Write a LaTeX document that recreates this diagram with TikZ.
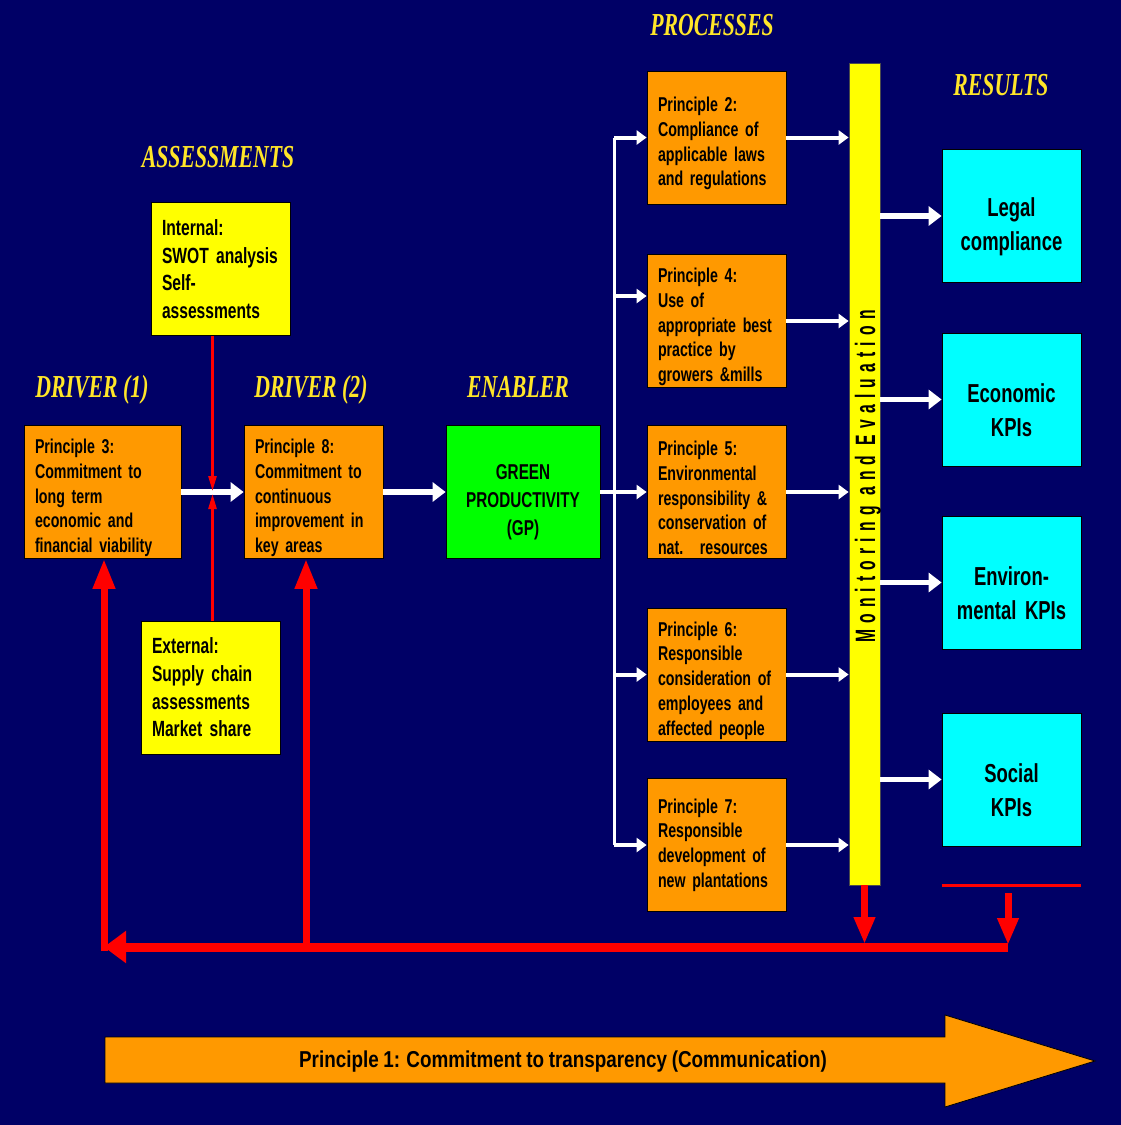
\documentclass[tikz,border=0pt]{standalone}
\usepackage{fontspec}
\usepackage{tikz}
\usetikzlibrary{positioning,calc,arrows.meta}
\newfontfamily\boxfont{Liberation Sans}[FakeStretch=0.71]
\newfontfamily\arrowfont{Liberation Sans}[FakeStretch=0.82]
\newfontfamily\barfont{Liberation Sans}[FakeStretch=0.56,LetterSpace=22]
\newfontfamily\headfont{Liberation Serif}[FakeStretch=0.68]
\newcommand\tightspace{\spaceskip=.2em\relax}
\definecolor{navy}{RGB}{0,0,102}
\definecolor{porange}{RGB}{255,153,0}
\definecolor{pyellow}{RGB}{255,255,0}
\definecolor{pgreen}{RGB}{0,255,0}
\definecolor{pcyan}{RGB}{0,255,255}
\definecolor{pred}{RGB}{255,0,0}
\definecolor{headgold}{RGB}{255,230,40}
\tikzstyle{box} = [draw=black, line width=0.8pt, inner xsep=11pt, inner ysep=0pt,
                   minimum width=139pt, minimum height=133pt, text width=117pt,
                   align=left, text=black]
\tikzstyle{prin} = [box, fill=porange, execute at begin node={\rule{0pt}{26.5pt}},
                    font=\boxfont\bfseries\fontsize{20}{24.75}\selectfont\tightspace]
\tikzstyle{assess} = [box, fill=pyellow, font=\boxfont\bfseries\fontsize{22}{27.7}\selectfont\tightspace]
\tikzstyle{result} = [box, fill=pcyan, align=center, execute at begin node={\rule{0pt}{40pt}},
                      font=\boxfont\bfseries\fontsize{26}{34}\selectfont\tightspace]
\tikzstyle{enabler} = [box, fill=pgreen, align=center, minimum width=154pt, text width=132pt,
                       execute at begin node={\rule{0pt}{35.5pt}},
                       font=\boxfont\bfseries\fontsize{21.5}{28}\selectfont]
\tikzstyle{heading} = [text=headgold, anchor=base, font=\headfont\bfseries\itshape\fontsize{32}{36}\selectfont]
\tikzstyle{flow} = [draw=white, line width=5.5pt, -{Triangle[length=13pt,width=19pt]}]
\tikzstyle{branch} = [draw=white, line width=4pt, -{Triangle[length=10pt,width=14pt]}]
\tikzstyle{feedback} = [draw=pred, line width=7pt]
\tikzstyle{assessline} = [draw=pred, line width=2.5pt, -{Triangle[length=15pt,width=8pt]}]
\begin{document}
\begin{tikzpicture}[x=1pt, y=-1pt]
  \fill[navy] (0,0) rectangle (1121,1125);
  \useasboundingbox (0,0) rectangle (1121,1125);

  \node[heading] (proc) at (712,35)  {PROCESSES};
  \node[heading] (res)  at (1001,95) {RESULTS};
  \node[heading] (assm) at (218,167) {ASSESSMENTS};
  \node[heading] (drv1) at (92,397)  {DRIVER (1)};
  \node[heading] (drv2) at (311,397) {DRIVER (2)};
  \node[heading] (enab) at (518,397) {ENABLER};

  \node[assess] (intl) at (220.5,269)   {Internal:\\SWOT analysis\\Self-\\assessments};
  \node[assess] (extl) at (210.5,687.5) {External:\\Supply chain\\assessments\\Market share};

  \node[prin, minimum width=157pt, text width=135pt] (p3) at (102.5,492)
       {Principle 3:\\Commitment to\\long term\\economic and\\financial viability};
  \node[prin]    (p8) at (313.5,492) {Principle 8:\\Commitment to\\continuous\\improvement in\\key areas};
  \node[enabler] (gp) at (523,492)   {GREEN\\PRODUCTIVITY\\(GP)};

  \node[prin] (p2) at (716.5,137.5) {Principle 2:\\Compliance of\\applicable laws\\and regulations};
  \node[prin] (p4) at (716.5,321)   {Principle 4:\\Use of\\appropriate best\\practice by\\growers \&mills};
  \node[prin] (p5) at (716.5,492)   {Principle 5:\\Environmental\\responsibility \&\\conservation of\\nat.~ resources};
  \node[prin] (p6) at (716.5,674.5) {Principle 6:\\Responsible\\consideration of\\employees and\\affected people};
  \node[prin, execute at begin node={}, execute at end node={\rule[-16pt]{0pt}{0pt}}] (p7) at (716.5,845)
       {Principle 7:\\Responsible\\development of\\new plantations};

  \node[draw=black!70, line width=0.8pt, fill=pyellow, minimum width=31pt, minimum height=822pt,
        inner sep=0pt] (mon) at (864.5,474) {};
  \node[rotate=90, anchor=base, inner sep=0pt, font=\barfont\bfseries\fontsize{28}{28}\selectfont]
       (montext) at (875,476.5) {Monitoring and Evaluation};

  \node[result] (legal) at (1011.5,216)   {Legal\\compliance};
  \node[result] (econ)  at (1011.5,399.5) {Economic\\KPIs};
  \node[result] (env)   at (1011.5,582.5) {Environ-\\mental KPIs};
  \node[result] (soc)   at (1011.5,779.5) {Social\\KPIs};

  \draw[flow] (p3) -- (p8);
  \draw[flow] (p8) -- (gp);

  \coordinate (split) at (614,492);
  \coordinate (p4in) at ([yshift=25pt]p4.west);
  \draw[white, line width=4pt] (gp.east) -- (split);
  \draw[white, line width=3pt] (split |- p2.west) -- (split |- p7.west);
  \draw[branch] (split |- p2.west) -- (p2.west);
  \draw[branch] (split |- p4in) -- (p4in);
  \foreach \p in {p5,p6,p7}
    \draw[branch] (split |- \p.west) -- (\p.west);
  \foreach \p in {p2,p4,p5,p6,p7}
    \draw[branch] (\p.east) -- (\p.east -| mon.west);
  \foreach \r in {legal,econ,env,soc}
    \draw[flow] (mon.east |- \r.west) -- (\r.west);

  \coordinate (cross) at ($(p3.east)!0.5!(p8.west)$);
  \draw[assessline] (intl.south -| cross) -- ([yshift=1pt]cross);
  \draw[assessline] (extl.north -| cross) -- ([yshift=-2pt]cross);

  \coordinate (fbR) at (1008,947);
  \coordinate (fbL) at (104,947);
  \draw[pred, line width=3pt] (soc.west |- mon.south) -- (soc.east |- mon.south);
  \draw[feedback, -{Triangle[length=27pt,width=20pt]}] (mon.south) -- ([yshift=3pt]mon.south |- fbR);
  \draw[feedback, -{Triangle[length=27pt,width=20pt]}] ([yshift=-8pt]fbR |- mon.south) -- ([yshift=2pt]fbR);
  \draw[pred, line width=9pt, -{Triangle[length=22pt,width=31pt]}] (fbR) -- (fbL);
  \draw[feedback, -{Triangle[length=30pt,width=21pt]}] ([yshift=-4pt]fbL) -- (fbL |- p3.south);
  \draw[feedback, -{Triangle[length=30pt,width=21pt]}] ([xshift=-7.5pt]p8.south |- fbL) -- ([xshift=-7.5pt]p8.south);

  \filldraw[fill=porange, draw=black, line width=0.8pt]
    (105,1037) -- (945,1037) -- (945,1015) -- (1095,1061) -- (945,1107) -- (945,1083) -- (105,1083) -- cycle;
  \node[font=\arrowfont\bfseries\fontsize{23}{23}\selectfont\tightspace] (p1) at (563,1062)
       {Principle 1: Commitment to transparency (Communication)};
\end{tikzpicture}
\end{document}
